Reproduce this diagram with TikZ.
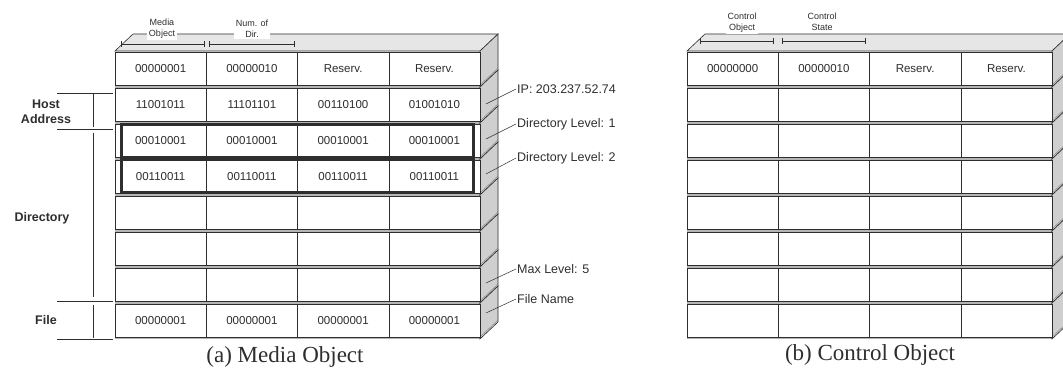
\documentclass[tikz,border=0pt]{standalone}
\usepackage{fontspec}
\setmainfont{Liberation Serif}
\setsansfont{Liberation Sans}
\usetikzlibrary{arrows.meta,calc,positioning}
\definecolor{ink}{HTML}{2E2E2E}
\definecolor{wallgray}{HTML}{CFCFCF}
\definecolor{lidgray}{HTML}{E6E6E6}
\definecolor{bandgray}{HTML}{B5B5B5}

\tikzset{
  rule/.style={draw=ink,line width=.6pt},
  slablid/.style={rule,fill=lidgray},
  slabwall/.style={rule,fill=wallgray},
  slabface/.style={rule,fill=white},
  cell/.style={font=\sffamily\fontsize{11.5}{12}\selectfont,text=ink},
  note/.style={font=\sffamily\fontsize{12.5}{14}\selectfont,text=ink,anchor=west,inner sep=1pt},
  tag/.style={font=\sffamily\bfseries\fontsize{12.5}{15}\selectfont,text=ink,align=center},
  colhead/.style={font=\sffamily\fontsize{9}{11}\selectfont,text=ink,align=center,fill=white,inner sep=1.5pt},
  caption/.style={font=\fontsize{23}{25}\selectfont,text=ink},
  leader/.style={draw=ink,line width=.5pt},
  hilite/.style={draw=ink,line width=3pt},
  dim/.style={draw=ink,line width=.5pt,{Bar[width=6pt]}-{Bar[width=6pt]}}
}

% one stack of eight slabs, front face from x=115 to x=480
\newcommand\slabstack{%
  \filldraw[slablid] (115,51) -- (133,34) -- (498,34) -- (480,51) -- cycle;
  \fill[bandgray] (115,51) rectangle (480,339);
  \foreach \r in {0,...,7}{
    \pgfmathsetmacro\yt{51+36*\r}
    \pgfmathsetmacro\yb{\yt+36}
    \filldraw[slabwall] (480,\yt) -- (498,\yt-17) -- (498,\yb-17) -- (480,\yb) -- cycle;
    \draw[ink!60,line width=.4pt] (480,\yb-2) -- (498,\yb-19);
    \filldraw[slabface] (115,\yt+1.2) rectangle (480,\yb-1.2);
    \foreach \c in {206,297,389} \draw[rule] (\c,\yt+1.2) -- (\c,\yb-1.2);
  }
}

\begin{document}
\begin{tikzpicture}[x=1pt,y=-1pt]
\useasboundingbox (0,0) rectangle (1063,371);

% (a) media object
\slabstack
\node[colhead] (mobj) at (162,29) {Media\\Object};
\node[colhead] (ndir) at (252,29) {Num. of\\Dir.};
\draw[dim] (121,44) -- (204,44);
\draw[dim] (209,44) -- (294,44);
\foreach \r/\vals in {1/{00000001,00000010,Reserv.,Reserv.},
                      2/{11001011,11101101,00110100,01001010},
                      3/{00010001,00010001,00010001,00010001},
                      4/{00110011,00110011,00110011,00110011},
                      8/{00000001,00000001,00000001,00000001}}
  \foreach \v [count=\c] in \vals
    \node[cell] (ma-\r-\c) at ({69.4+91.25*\c},{33+36*\r}) {\v};
\draw[hilite] (121,125) rectangle (473,158);
\draw[hilite] (121,160) rectangle (473,193);

\node[tag] (host) at (46,112) {Host\\Address};
\node[tag] (dirs) at (42,218) {Directory};
\node[tag] (file) at (46,320) {File};
\draw[rule] (57,93) -- (113,93);
\draw[rule] (93,93) -- (93,127);
\draw[rule] (57,129) -- (113,129);
\draw[rule] (93,133) -- (93,297);
\draw[rule] (57,301) -- (113,301);
\draw[rule] (93,305) -- (93,338);
\draw[rule] (57,339) -- (113,339);

\coordinate (ipfoot) at (486,104);
\coordinate (lv1foot) at (486,139);
\coordinate (lv2foot) at (486,174);
\coordinate (maxfoot) at (486,283);
\coordinate (namefoot) at (486,313);
\node[note] (ip) at (516,89) {IP: 203.237.52.74};
\node[note] (lv1) at (516,124) {Directory Level: 1};
\node[note] (lv2) at (516,158) {Directory Level: 2};
\node[note] (maxlv) at (516,269) {Max Level: 5};
\node[note] (fname) at (516,299) {File Name};
\draw[leader] (ipfoot) -- (ip.west);
\draw[leader] (lv1foot) -- (lv1.west);
\draw[leader] (lv2foot) -- (lv2.west);
\draw[leader] (maxfoot) -- (maxlv.west);
\draw[leader] (namefoot) -- (fname.west);

\node[caption] (capa) at (285,357) {(a) Media Object};

% (b) control object
\begin{scope}[xshift=572pt]
\slabstack
\node[colhead] (cobj) at (170,23) {Control\\Object};
\node[colhead] (cstate) at (250,22) {Control\\State};
\draw[dim] (128,41) -- (201,41);
\draw[dim] (210,41) -- (293,41);
\foreach \v [count=\c] in {00000000,00000010,Reserv.,Reserv.}
  \node[cell] (cb-1-\c) at ({69.4+91.25*\c},69) {\v};
\node[caption] (capb) at (298,355) {(b) Control Object};
\end{scope}
\end{tikzpicture}
\end{document}
